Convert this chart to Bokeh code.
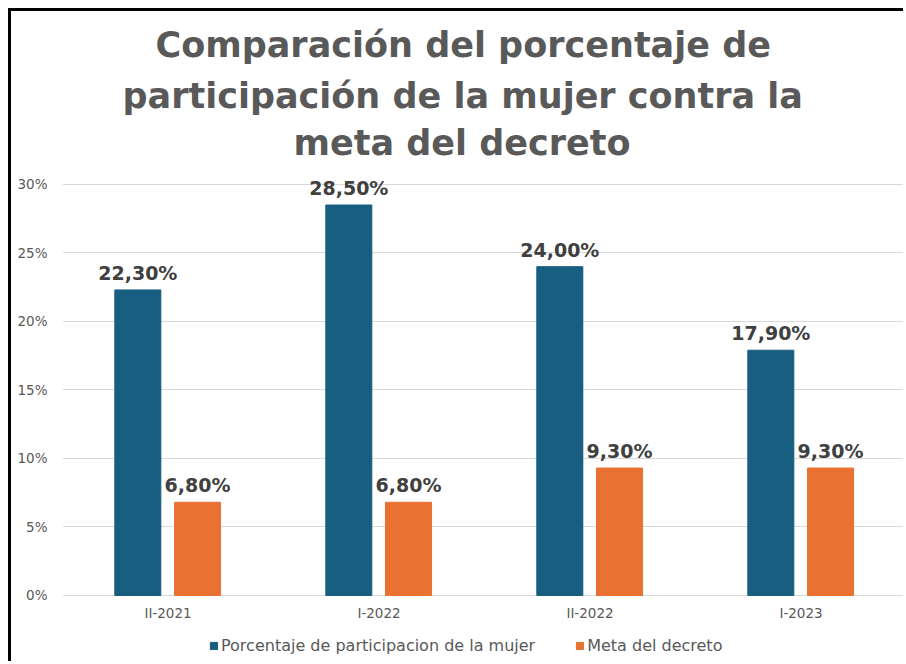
from bokeh.plotting import figure
from bokeh.models import (FactorRange, Range1d, PrintfTickFormatter, Legend, LegendItem,
                          ColumnDataSource, Title, FixedTicker)
from bokeh.transform import dodge
from bokeh.core.properties import value
from bokeh.embed import file_html
from bokeh.resources import INLINE

# ---- data ----
periods = ["II-2021", "I-2022", "II-2022", "I-2023"]
participacion = [22.3, 28.5, 24.0, 17.9]
meta = [6.8, 6.8, 9.3, 9.3]
y_ticks = [0, 5, 10, 15, 20, 25, 30]
series_names = ["Porcentaje de participacion de la mujer", "Meta del decreto"]
title_lines = ["Comparación del porcentaje de",
               "participación de la mujer contra la",
               "meta del decreto"]

def fmt(v):
    return f"{v:.2f}".replace(".", ",") + "%"

src = ColumnDataSource(dict(
    period=periods,
    part=participacion,
    meta=meta,
    zero=[0] * len(periods),
    part_lbl=[fmt(v) for v in participacion],
    meta_lbl=[fmt(v) for v in meta],
))

FONT = "DejaVu Sans"
BLUE = "#175E80"
ORANGE = "#E97132"
GRAY = "#595959"

p = figure(x_range=FactorRange(*periods), y_range=Range1d(-5.04, 31.53),
           width=895, height=653, output_backend="svg", toolbar_location=None,
           title=None,
           min_border_left=51, min_border_right=0, min_border_top=152, min_border_bottom=0)
p.styles = {"margin-left": "8px", "margin-top": "8px",
            "border-left": "3px solid #000", "border-top": "3px solid #000"}

# title lines, added from the one nearest the plot outward (left offsets centre them)
title_offsets = [93, 60, 231]
title_standoffs = [9, 9, 1]
for line, off, so in reversed(list(zip(title_lines, title_offsets, title_standoffs))):
    p.add_layout(Title(text=line, align="left", offset=off,
                       text_font=FONT, text_font_size="35px", text_font_style="bold",
                       text_color=GRAY, standoff=so), "above")

off_blue, off_orange, bar_w = -0.143, 0.140, 0.218
r1 = p.vbar(x=dodge("period", off_blue, range=p.x_range), top="part", width=bar_w,
            source=src, fill_color=BLUE, line_color=BLUE)
r2 = p.vbar(x=dodge("period", off_orange, range=p.x_range), top="meta", width=bar_w,
            source=src, fill_color=ORANGE, line_color=ORANGE)

# value labels
for col, lbl, off in [("part", "part_lbl", off_blue), ("meta", "meta_lbl", off_orange)]:
    p.text(x=dodge("period", off, range=p.x_range), y=col, text=lbl, source=src,
           text_align="center", text_baseline="alphabetic", y_offset=-17,
           text_font=value(FONT), text_font_style="bold", text_font_size="19px",
           text_color="#404040")

# category labels (drawn on the categorical scale, under the zero line)
p.text(x="period", y="zero", text="period", source=src,
       text_align="center", text_baseline="middle", y_offset=18,
       text_font=value(FONT), text_font_size="13.5px", text_color=GRAY)

p.outline_line_color = None
p.xgrid.visible = False
p.xaxis.visible = False
p.ygrid.ticker = FixedTicker(ticks=y_ticks)
p.ygrid.grid_line_color = "#D9D9D9"
p.ygrid.grid_line_width = 1

p.yaxis.ticker = FixedTicker(ticks=y_ticks)
p.yaxis.formatter = PrintfTickFormatter(format="%d%%")
p.yaxis.axis_line_color = None
p.yaxis.major_tick_line_color = None
p.yaxis.minor_tick_line_color = None
p.yaxis.major_label_standoff = 9
p.yaxis.major_label_text_font = FONT
p.yaxis.major_label_text_font_size = "13.5px"
p.yaxis.major_label_text_color = GRAY

legend = Legend(items=[LegendItem(label=series_names[0], renderers=[r1]),
                       LegendItem(label=series_names[1], renderers=[r2])],
                orientation="horizontal", location=(147, 9),
                label_text_font=FONT, label_text_font_size="16px", label_text_color=GRAY,
                glyph_width=9, glyph_height=9, label_standoff=3, spacing=40,
                padding=0, margin=0, border_line_color=None, background_fill_alpha=0,
                label_height=18)
p.add_layout(legend, "center")

open("out.html", "w").write(file_html(p, INLINE))
